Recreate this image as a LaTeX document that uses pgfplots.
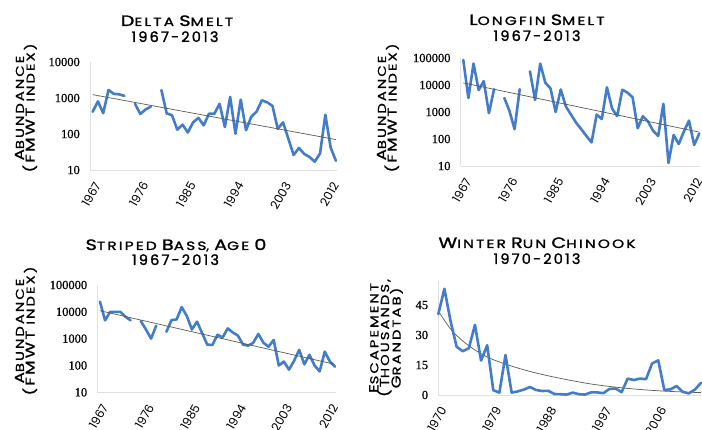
\documentclass[border=0pt]{standalone}
\usepackage{fontspec}
\setmainfont{Poppins}
\newfontfamily\tickfont[FakeBold=0.6]{Liberation Serif}
\newfontfamily\titlefont[FakeStretch=1.28, LetterSpace=18, FakeBold=1.6]{Poppins}
\newfontfamily\yearfont[LetterSpace=15, FakeBold=1.6]{Poppins}
\newfontfamily\labelfont[FakeStretch=1.28, LetterSpace=18, FakeBold=1.2]{Poppins}
\usepackage{pgfplots}
\usepackage{pgfplotstable}
\pgfplotsset{compat=1.18}
\definecolor{lineblue}{RGB}{66,124,202}
\definecolor{trendc}{RGB}{95,90,80}

\newcommand\TSC[2]{{\fontsize{15}{16}\selectfont #1}{\fontsize{12}{16}\selectfont #2}}
\newcommand\LSC[2]{{\fontsize{13}{14}\selectfont #1}{\fontsize{11.5}{14}\selectfont #2}}

\pgfplotstableread{
year val
1967 414
1968 806
1969 379
1970 1673
1971 1303
1972 1265
1973 1145
1974 nan
1975 697
1976 359
1977 480
1978 572
1979 nan
1980 1654
1981 374
1982 333
1983 132
1984 182
1985 110
1986 212
1987 280
1988 174
1989 366
1990 364
1991 689
1992 156
1993 1078
1994 102
1995 899
1996 127
1997 303
1998 420
1999 864
2000 756
2001 603
2002 139
2003 210
2004 74
2005 26
2006 41
2007 28
2008 23
2009 17
2010 29
2011 343
2012 42
2013 18
}\deltatab

\pgfplotstableread{
year val
1967 85000
1968 3300
1969 62000
1970 6500
1971 14000
1972 900
1973 7000
1974 nan
1975 3300
1976 1100
1977 230
1978 7000
1979 nan
1980 32000
1981 2800
1982 62000
1983 12000
1984 7500
1985 1000
1986 6800
1987 1600
1988 800
1989 400
1990 230
1991 130
1992 75
1993 800
1994 550
1995 8200
1996 1350
1997 700
1998 6700
1999 5200
2000 3500
2001 250
2002 700
2003 450
2004 200
2005 130
2006 2000
2007 13
2008 140
2009 65
2010 190
2011 480
2012 60
2013 160
}\longfintab

\pgfplotstableread{
year val
1967 24000
1968 4800
1969 10000
1970 10000
1971 10000
1972 6500
1973 4800
1974 nan
1975 4500
1976 2200
1977 1000
1978 3000
1979 nan
1980 1800
1981 4900
1982 5200
1983 15000
1984 7000
1985 2200
1986 4300
1987 1600
1988 600
1989 580
1990 1400
1991 1100
1992 2400
1993 1700
1994 1300
1995 600
1996 550
1997 700
1998 1500
1999 700
2000 500
2001 900
2002 100
2003 140
2004 70
2005 150
2006 380
2007 110
2008 250
2009 100
2010 60
2011 330
2012 140
2013 90
}\basstab

\pgfplotstableread{
year val
1970 40.4
1971 53.1
1972 37.1
1973 24.1
1974 21.9
1975 23.4
1976 35.1
1977 17.2
1978 24.9
1979 2.4
1980 1.2
1981 20.0
1982 1.2
1983 1.8
1984 2.7
1985 4.0
1986 2.5
1987 2.0
1988 2.1
1989 0.5
1990 0.4
1991 0.2
1992 1.2
1993 0.4
1994 0.2
1995 1.3
1996 1.3
1997 0.9
1998 3.0
1999 3.3
2000 1.4
2001 8.2
2002 7.5
2003 8.2
2004 7.9
2005 15.8
2006 17.3
2007 2.5
2008 2.8
2009 4.5
2010 1.6
2011 0.8
2012 2.7
2013 6.1
}\chinooktab

\pgfplotstableread{
year val
1970 42
1972 33
1974 27
1976 22.5
1978 19
1980 16.5
1983 13.5
1986 11
1990 8.3
1995 5.5
2000 3.6
2005 2.3
2010 1.5
2013 1.2
}\chinooktrend

\pgfplotsset{
  panel/.style={
    scale only axis,
    axis x line*=bottom,
    axis y line*=left,
    axis line style={draw=black!12, line width=0.8pt, -},
    xtick style={draw=none},
    ytick style={draw=none},
    minor tick style={draw=black!20, line width=0.6pt},
    minor tick length=3pt,
    xticklabel style={font=\fontsize{12}{12}\selectfont, xshift=5pt, yshift=-13pt, rotate=60, anchor=east, inner sep=0pt},
    yticklabel style={font=\tickfont\fontsize{12.5}{12}\selectfont, anchor=east, inner sep=0pt, xshift=-10pt},
    unbounded coords=jump,
    clip=false,
  },
  dataline/.style={lineblue, line width=2.6pt, line join=round, line cap=round},
  trendline/.style={trendc, line width=0.7pt},
}

\begin{document}
\begin{tikzpicture}
\useasboundingbox (0pt,0pt) rectangle (702pt,430pt);

% ---------- Delta Smelt ----------
\begin{axis}[panel, at={(90pt,260pt)}, anchor=south west,
  width=247pt, height=108pt,
  xmin=1966.5, xmax=2013.2,
  ymode=log, ymin=10, ymax=10000,
  xtick={1967,1976,1985,1994,2003,2012},
  xticklabels={1967,1976,1985,1994,2003,2012},
  minor xtick={1967,...,2013},
  ytick={10,100,1000,10000},
  yticklabels={10,100,1000,10000}]
\addplot[dataline] table[x=year,y=val]{\deltatab};
\addplot[trendline] coordinates {(1967,1240) (2013,70)};
\end{axis}

% ---------- Longfin Smelt ----------
\begin{axis}[panel, at={(460.7pt,264pt)}, anchor=south west,
  width=239.6pt, height=108pt,
  xmin=1966.5, xmax=2013.2,
  ymode=log, ymin=10, ymax=100000,
  xtick={1967,1976,1985,1994,2003,2012},
  xticklabels={1967,1976,1985,1994,2003,2012},
  minor xtick={1967,...,2013},
  ytick={10,100,1000,10000,100000},
  yticklabels={10,100,1000,10000,100000}]
\addplot[dataline] table[x=year,y=val]{\longfintab};
\addplot[trendline] coordinates {(1967,12000) (2013,180)};
\end{axis}

% ---------- Striped Bass ----------
\begin{axis}[panel, at={(97.4pt,37.7pt)}, anchor=south west,
  width=238.6pt, height=107.3pt,
  xmin=1966.5, xmax=2013.2,
  ymode=log, ymin=10, ymax=100000,
  xtick={1967,1976,1985,1994,2003,2012},
  xticklabels={1967,1976,1985,1994,2003,2012},
  minor xtick={1967,...,2013},
  ytick={10,100,1000,10000,100000},
  yticklabels={10,100,1000,10000,100000}]
\addplot[dataline] table[x=year,y=val]{\basstab};
\addplot[trendline] coordinates {(1967,11000) (2013,110)};
\end{axis}

% ---------- Winter Run Chinook ----------
\begin{axis}[panel, at={(438.3pt,35pt)}, anchor=south west,
  width=262.7pt, height=114pt,
  xmin=1970, xmax=2013,
  ymin=0, ymax=57,
  xtick={1970,1979,1988,1997,2006},
  xticklabels={1970,1979,1988,1997,2006},
  minor xtick={1970,...,2013},
  ytick={0,15,30,45},
  yticklabels={0,15,30,45}]
\addplot[trendline, smooth] table[x=year,y=val]{\chinooktrend};
\addplot[dataline] table[x=year,y=val]{\chinooktab};
\end{axis}

% ---------- Titles ----------
\node[anchor=base, inner sep=0pt, font=\titlefont] at (177pt,404pt) {\TSC{D}{ELTA} \TSC{S}{MELT}};
\node[anchor=base, inner sep=0pt, font=\yearfont\fontsize{14.5}{16}\selectfont] at (175pt,388pt) {1967-2013};
\node[anchor=base, inner sep=0pt, font=\titlefont] at (537pt,405pt) {\TSC{L}{ONGFIN} \TSC{S}{MELT}};
\node[anchor=base, inner sep=0pt, font=\yearfont\fontsize{14.5}{16}\selectfont] at (537pt,389pt) {1967-2013};
\node[anchor=base, inner sep=0pt, font=\titlefont] at (176pt,180pt) {\TSC{S}{TRIPED} \TSC{B}{ASS}, \TSC{A}{GE} {\fontsize{15}{16}\selectfont 0}};
\node[anchor=base, inner sep=0pt, font=\yearfont\fontsize{14.5}{16}\selectfont] at (175.5pt,165pt) {1967-2013};
\node[anchor=base, inner sep=0pt, font=\titlefont] at (537pt,182pt) {\TSC{W}{INTER} \TSC{R}{UN} \TSC{C}{HINOOK}};
\node[anchor=base, inner sep=0pt, font=\yearfont\fontsize{14.5}{16}\selectfont] at (537pt,166pt) {1970-2013};

% ---------- Y labels ----------
\node[rotate=90, align=center, inner sep=0pt, font=\labelfont] at (26pt,322pt) {\LSC{A}{BUNDANCE}\\[-2.5pt]\LSC{(FMWT}{ INDEX)}};
\node[rotate=90, align=center, inner sep=0pt, font=\labelfont] at (388pt,322pt) {\LSC{A}{BUNDANCE}\\[-2.5pt]\LSC{(FMWT}{ INDEX)}};
\node[rotate=90, align=center, inner sep=0pt, font=\labelfont] at (26pt,99pt) {\LSC{A}{BUNDANCE}\\[-2.5pt]\LSC{(FMWT}{ INDEX)}};
\node[rotate=90, align=center, inner sep=0pt, font=\labelfont] at (386pt,92pt) {\LSC{E}{SCAPEMENT}\\[-2.5pt]\LSC{(T}{HOUSANDS,}\\[-2.5pt]\LSC{G}{RANDTAB)}};
\end{tikzpicture}
\end{document}
